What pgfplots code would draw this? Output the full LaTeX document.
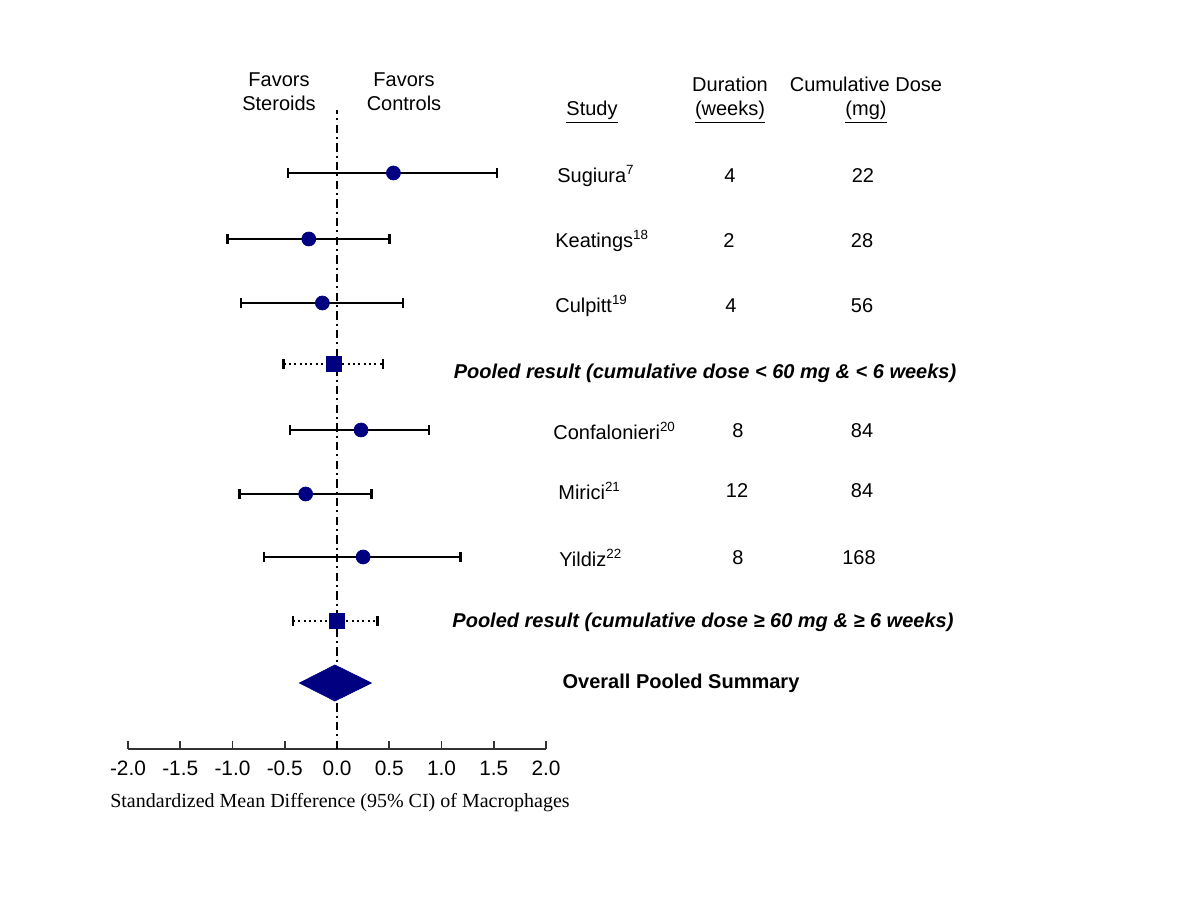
\documentclass[border=0pt]{standalone}
\usepackage{pgfplots}
\pgfplotsset{compat=1.18}
\usepackage{fontspec}
\setmainfont{Liberation Sans}
\newfontfamily\timesfont{Liberation Serif}
\definecolor{navy}{RGB}{0,0,128}
\tikzset{
  ci/.style={black, line width=1.2pt, mark=|, mark size=2.8pt, mark options={solid, line width=1.6pt}},
  pci/.style={ci, dotted},
  lbl/.style={font=\fontsize{12}{14.4}\selectfont, inner sep=0pt, align=center}}

\begin{document}
\begin{tikzpicture}
  % 1 px of the 1200x900 reference = 0.6pt
  \useasboundingbox (0,0) rectangle (720pt,540pt);
  \begin{axis}[%
    at={(76.8pt,90.6pt)}, anchor=south west,
    scale only axis,
    width=250.8pt, height=389.4pt,
    xmin=-2, xmax=2,
    ymin=151, ymax=800,
    clip=false,
    axis y line=none,
    axis x line*=bottom,
    x axis line style={line width=1pt, black!80},
    xtick={-2,-1.5,-1,-0.5,0,0.5,1,1.5,2},
    xticklabels={-2.0,-1.5,-1.0,-0.5,0.0,0.5,1.0,1.5,2.0},
    tick align=inside,
    major tick length=5pt,
    tick style={line width=1pt, black!80},
    xticklabel style={font=\fontsize{12.5}{14}\selectfont, yshift=-3.5pt},
    /pgf/number format/assume math mode=true]

    % Linea de no efecto
    \addplot[black, mark=none, line width=1.3pt, dash pattern=on 5pt off 2.5pt on 1.2pt off 2.5pt]
      coordinates {(0,151) (0,790)};

    % Estudios individuales
    \addplot[ci] coordinates {(-0.47,727) (1.53,727)};
    \addplot[ci] coordinates {(-1.05,661) (0.50,661)};
    \addplot[ci] coordinates {(-0.92,597) (0.63,597)};
    \addplot[pci] coordinates {(-0.51,536) (0.44,536)};
    \addplot[ci] coordinates {(-0.45,470) (0.88,470)};
    \addplot[ci] coordinates {(-0.93,406) (0.33,406)};
    \addplot[ci] coordinates {(-0.70,343) (1.18,343)};
    \addplot[pci] coordinates {(-0.42,279) (0.39,279)};

    \addplot[only marks, mark=*, mark size=4.2pt, navy, mark options={fill=navy}]
      coordinates {(0.54,727) (-0.27,661) (-0.14,597) (0.23,470) (-0.30,406) (0.25,343)};
    \addplot[only marks, mark=square*, mark size=4.4pt, navy, mark options={fill=navy}]
      coordinates {(-0.03,536) (0.00,279)};

    % Resumen global
    \addplot[fill=navy, draw=navy, mark=none] coordinates
      {(-0.36,217) (-0.02,235) (0.33,217) (-0.02,199)} -- cycle;

    % Encabezados
    \node[lbl] at (axis cs:-0.555,808) {Favors\\Steroids};
    \node[lbl] at (axis cs:0.641,808) {Favors\\Controls};
    \node[lbl] at (axis cs:2.44,788) {\underline{Study}};
    \node[lbl] at (axis cs:3.761,800) {Duration\\\underline{(weeks)}};
    \node[lbl] at (axis cs:5.062,800) {Cumulative Dose\\\underline{(mg)}};

    % Filas
    \node[lbl, anchor=west] at (axis cs:2.105,724) {Sugiura\textsuperscript{7}};
    \node[lbl, anchor=west] at (axis cs:2.086,659) {Keatings\textsuperscript{18}};
    \node[lbl, anchor=west] at (axis cs:2.086,594) {Culpitt\textsuperscript{19}};
    \node[lbl, anchor=west] at (axis cs:2.067,469) {Confalonieri\textsuperscript{20}};
    \node[lbl, anchor=west] at (axis cs:2.115,409) {Mirici\textsuperscript{21}};
    \node[lbl, anchor=west] at (axis cs:2.124,342) {Yildiz\textsuperscript{22}};

    \node[lbl] at (axis cs:3.761,724) {4};
    \node[lbl] at (axis cs:3.751,659) {2};
    \node[lbl] at (axis cs:3.770,594) {4};
    \node[lbl] at (axis cs:3.837,469) {8};
    \node[lbl] at (axis cs:3.828,409) {12};
    \node[lbl] at (axis cs:3.837,342) {8};

    \node[lbl] at (axis cs:5.033,724) {22};
    \node[lbl] at (axis cs:5.024,659) {28};
    \node[lbl] at (axis cs:5.024,594) {56};
    \node[lbl] at (axis cs:5.024,469) {84};
    \node[lbl] at (axis cs:5.024,409) {84};
    \node[lbl] at (axis cs:4.995,342) {168};

    \node[lbl, font=\fontsize{12}{14.4}\selectfont\bfseries\itshape] at (axis cs:3.522,527)
      {Pooled result (cumulative dose < 60 mg \& < 6 weeks)};
    \node[lbl, font=\fontsize{12}{14.4}\selectfont\bfseries\itshape] at (axis cs:3.502,278)
      {Pooled result (cumulative dose ≥ 60 mg \& ≥ 6 weeks)};
    \node[lbl, font=\fontsize{12}{14.4}\selectfont\bfseries] at (axis cs:3.292,217)
      {Overall Pooled Summary};

    \node[lbl, font=\fontsize{12}{14.4}\timesfont] at (axis cs:0.029,97)
      {Standardized Mean Difference (95\% CI) of Macrophages};
  \end{axis}
\end{tikzpicture}
\end{document}
